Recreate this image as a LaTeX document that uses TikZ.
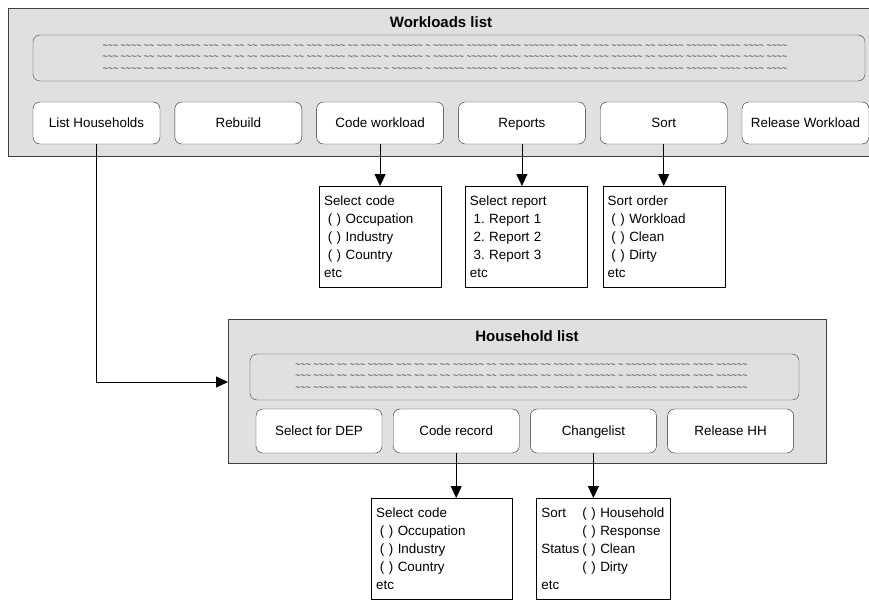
\documentclass[tikz,border=0pt]{standalone}
\usepackage{fontspec}
\setmainfont{Liberation Sans}
\usetikzlibrary{positioning,arrows.meta}

\definecolor{panelgray}{HTML}{E0E0E0}
\frenchspacing

% placeholder rows in the list strips
\newcommand{\rowsWL}{\detokenize{~~~ ~~~~ ~~ ~~~ ~~~~~ ~~~ ~~ ~~ ~~ ~~~~~~ ~~ ~~~ ~~~~ ~~ ~~~~ ~ ~~~~~~ ~ ~~~~~~ ~~~~~~ ~~~~ ~~~~~~ ~~~~ ~~ ~~~ ~~~~~~ ~~ ~~~~~ ~~~~~~ ~~~~ ~~~~ ~~~~}}
\newcommand{\rowsHH}{\detokenize{~~~ ~~~~ ~~ ~~~ ~~~~~ ~~~ ~~ ~~ ~~ ~~~~~~ ~~ ~~~ ~~~~ ~~ ~~~~ ~ ~~~~~~ ~ ~~~~~~ ~~~~~~ ~~~~ ~~~~~~}}
\newcommand{\indt}{\hspace*{3.7pt}}
\newcommand{\lab}[1]{\makebox[41pt][l]{#1}}

\begin{document}
\begin{tikzpicture}[
    x=1pt, y=-1pt,
    node distance=14.8pt,
    every node/.style={font=\fontsize{13.4}{18}\selectfont, inner sep=0pt, outer sep=0pt},
    panel/.style={draw=black!75, fill=panelgray, anchor=north west},
    title/.style={font=\bfseries\fontsize{15}{18}\selectfont},
    strip/.style={draw=black!75, fill=panelgray, rounded corners=7pt, anchor=north west},
    squig/.style={font=\fontsize{8.9}{11.5}\selectfont, align=center, text=black!85},
    btn/.style={draw=black!85, fill=white, rounded corners=7pt, minimum width=127pt, minimum height=42pt, text height=12pt, text depth=2.4pt},
    popup/.style={draw, fill=white, align=left, minimum height=101pt, text width=112pt, inner xsep=5pt},
    arr/.style={-{Triangle[length=12pt,width=11pt]}, line width=0.8pt}
  ]
    \useasboundingbox (0,0) rectangle (869,599);

    % Workloads list
    \node[panel, minimum width=866pt, minimum height=148pt] (wlpanel) at (8,8) {};
    \node[title] (wltitle) at (441,22) {Workloads list};
    \node[strip, minimum width=832pt, minimum height=46pt] (wlrows) at (33,35) {};
    \node[squig] at ([xshift=-4pt]wlrows.center) {\rowsWL\\\rowsWL\\\rowsWL};

    \node[btn, anchor=north west] (listhh) at (33,102) {List Households};
    \node[btn, right=of listhh] (rebuild) {Rebuild};
    \node[btn, right=of rebuild] (codewl) {Code workload};
    \node[btn, right=of codewl] (reports) {Reports};
    \node[btn, right=of reports] (sortwl) {Sort};
    \node[btn, right=of sortwl] (releasewl) {Release Workload};

    \node[popup, below=42pt of codewl] (wlcode) {Select code\\\indt( ) Occupation\\\indt( ) Industry\\\indt( ) Country\\etc};
    \node[popup, below=42pt of reports, xshift=4pt] (wlreport) {Select report\\\indt1. Report 1\\\indt2. Report 2\\\indt3. Report 3\\etc};
    \node[popup, below=42pt of sortwl] (wlsort) {Sort order\\\indt( ) Workload\\\indt( ) Clean\\\indt( ) Dirty\\etc};

    % Household list
    \node[panel, minimum width=598pt, minimum height=144pt] (hhpanel) at (228,319) {};
    \node[title] (hhtitle) at (527,336) {Household list};
    \node[strip, minimum width=549pt, minimum height=46pt] (hhrows) at (250,354) {};
    \node[squig] at ([xshift=-3pt]hhrows.center) {\rowsHH\\\rowsHH\\\rowsHH};

    \node[btn, anchor=north west, minimum width=126pt, minimum height=44pt] (seldep) at (256,409) {Select for DEP};
    \node[btn, right=11.2pt of seldep, minimum width=126pt, minimum height=44pt] (coderec) {Code record};
    \node[btn, right=11.2pt of coderec, minimum width=126pt, minimum height=44pt] (changes) {Changelist};
    \node[btn, right=11.2pt of changes, minimum width=126pt, minimum height=44pt] (releasehh) {Release HH};

    \node[popup, text width=131pt, below=45pt of coderec, xshift=-14.5pt] (hhcode) {Select code\\\indt( ) Occupation\\\indt( ) Industry\\\indt( ) Country\\etc};
    \node[popup, text width=124pt, below=45pt of changes, xshift=10pt] (hhsort) {\lab{Sort}( ) Household\\\lab{}( ) Response\\\lab{Status}( ) Clean\\\lab{}( ) Dirty\\etc};

    \draw[arr] (listhh.south) |- ([yshift=9pt]hhpanel.west);
    \draw[arr] (codewl.south) -- (codewl.south |- wlcode.north);
    \draw[arr] (reports.south) -- (reports.south |- wlreport.north);
    \draw[arr] (sortwl.south) -- (sortwl.south |- wlsort.north);
    \draw[arr] (coderec.south) -- (coderec.south |- hhcode.north);
    \draw[arr] (changes.south) -- (changes.south |- hhsort.north);
  \end{tikzpicture}
\end{document}
